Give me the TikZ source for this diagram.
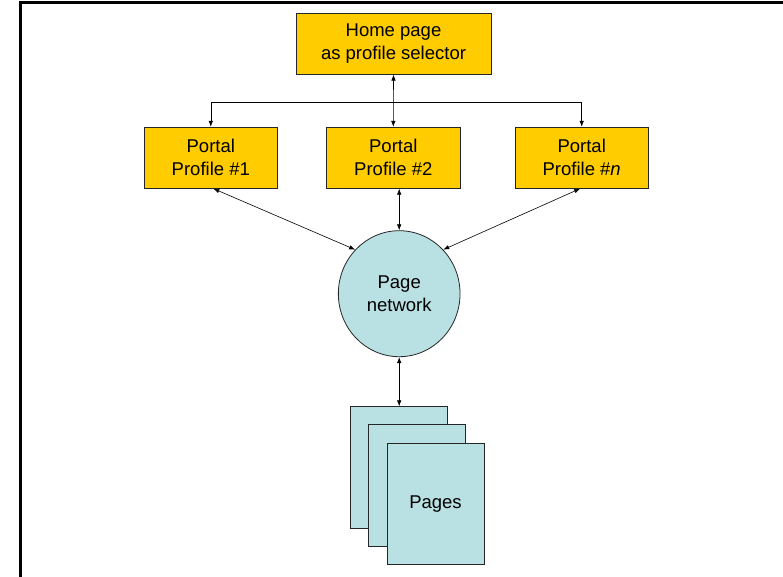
\documentclass[tikz,border=0pt]{standalone}
\usepackage{fontspec}
\setmainfont{Liberation Sans}
\usetikzlibrary{arrows.meta,shapes.geometric}
\definecolor{gold}{HTML}{FFCC00}
\definecolor{paleblue}{HTML}{B9E0E3}
\begin{document}
\begin{tikzpicture}[x=1pt,y=-1pt,
  txt/.style={font=\fontsize{18.5}{23}\selectfont, align=center},
  goldbox/.style={txt, draw=black!85, line width=0.8pt, fill=gold, inner sep=0pt, minimum height=61pt},
  sheet/.style={draw=black!85, line width=0.8pt, fill=paleblue, minimum width=97pt, minimum height=121.5pt, inner sep=0pt},
  tip/.style={Latex[length=6pt,width=4.5pt]},
  link/.style={line width=0.6pt, {Latex[length=6pt,width=4.5pt]}-{Latex[length=6pt,width=4.5pt]}},
  feed/.style={line width=0.6pt, -{Latex[length=6pt,width=4.5pt]}}]
\useasboundingbox (0,0) rectangle (783,577);
% frame
\draw[line width=3pt] (20.5,577) -- (20.5,3) -- (783,3);

% selector and profiles
\node[goldbox, minimum width=195pt] (home) at (393.5,43.7) {Home page\\as profile selector};
\node[goldbox, minimum width=133.5pt] (p1) at (210.8,157.7) {Portal\\Profile \#1};
\node[goldbox, minimum width=133.5pt] (p2) at (393.3,157.7) {Portal\\Profile \#2};
\node[goldbox, minimum width=133.5pt] (p3) at (581.7,157.7) {Portal\\Profile \#\textit{n}};

% page network
\node[ellipse, draw=black!85, line width=0.8pt, fill=paleblue, txt,
      minimum width=121.7pt, minimum height=126pt, inner sep=0pt] (net) at (399.2,293.7) {Page\\network};

% stacked pages
\node[sheet] (s1) at (399.2,467.5) {};
\node[sheet] (s2) at (417.3,485.5) {};
\node[sheet, txt] (s3) at (435.5,503.8) {Pages};

% connectors
\coordinate (bar) at (393.3,102.7);
\draw[link] (home.south) -- (p2.north);
\draw[feed] (bar) -| (p1.north);
\draw[feed] (bar) -| (p3.north);
\draw[link] ([xshift=2.5pt]p1.south) -- (net.135);
\draw[link] ([xshift=-1.5pt]p3.south) -- (net.45);
\draw[link] (p2.south -| net.north) -- (net.north);
\draw[link] (net.south) -- (net.south |- s1.north);
\end{tikzpicture}
\end{document}
